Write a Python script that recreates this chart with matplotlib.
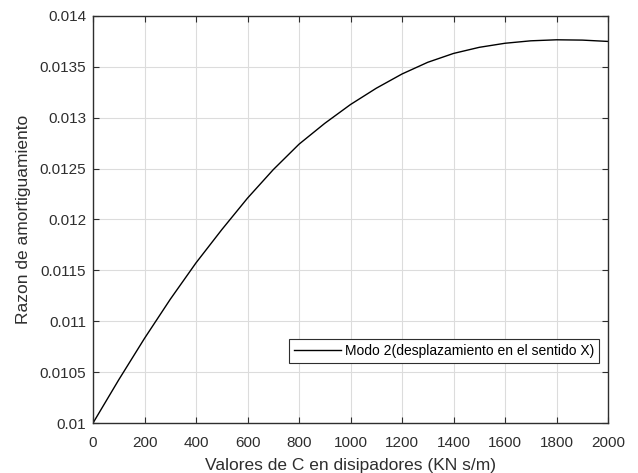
import matplotlib.pyplot as plt

# values
c_values = [0, 100, 200, 300, 400, 500, 600, 700, 800, 900, 1000,
            1100, 1200, 1300, 1400, 1500, 1600, 1700, 1800, 1900, 2000]
razon = [0.01000, 0.010425, 0.010832, 0.011216, 0.011574, 0.011900,
         0.012210, 0.012490, 0.012740, 0.012945, 0.013130, 0.013290,
         0.013430, 0.013545, 0.013632, 0.013692, 0.013732, 0.013756,
         0.013766, 0.013763, 0.013750]

x_ticks = list(range(0, 2001, 200))
y_ticks = [0.01, 0.0105, 0.011, 0.0115, 0.012, 0.0125, 0.013, 0.0135, 0.014]
y_tick_labels = ["0.01", "0.0105", "0.011", "0.0115", "0.012",
                 "0.0125", "0.013", "0.0135", "0.014"]

GREY = "#2e2e2e"

plt.rcParams["font.family"] = ["Liberation Sans", "DejaVu Sans"]

fig = plt.figure(figsize=(6.38, 4.73), dpi=100)
ax = fig.add_axes([0.1458, 0.1057, 0.8072, 0.8605])

ax.plot(c_values, razon, color="black", linewidth=1.0,
        label="Modo 2(desplazamiento en el sentido X)")

ax.set_xlim(0, 2000)
ax.set_ylim(0.01, 0.014)
ax.set_xticks(x_ticks)
ax.set_yticks(y_ticks)
ax.set_yticklabels(y_tick_labels)
ax.tick_params(direction="in", top=True, right=True, labelsize=11,
               colors=GREY, length=4, width=0.8)
ax.tick_params(axis="x", pad=9)
ax.tick_params(axis="y", pad=5)
for sp in ax.spines.values():
    sp.set_color(GREY)
    sp.set_linewidth(1.0)

ax.grid(True, color="#dcdcdc", linewidth=0.8)
ax.set_axisbelow(True)

ax.set_xlabel("Valores de C en disipadores (KN s/m)", fontsize=12.5,
              color=GREY, labelpad=6)
ax.set_ylabel("Razon de amortiguamiento", fontsize=12.5, color=GREY,
              labelpad=6)

leg = ax.legend(loc="lower right", bbox_to_anchor=(0.9825, 0.148),
                fontsize=10, fancybox=False, framealpha=1, edgecolor=GREY,
                handlelength=3.4, handletextpad=0.3, borderpad=0.35,
                borderaxespad=0)
leg.get_frame().set_linewidth(0.8)

fig.savefig("out.png", dpi=100)
